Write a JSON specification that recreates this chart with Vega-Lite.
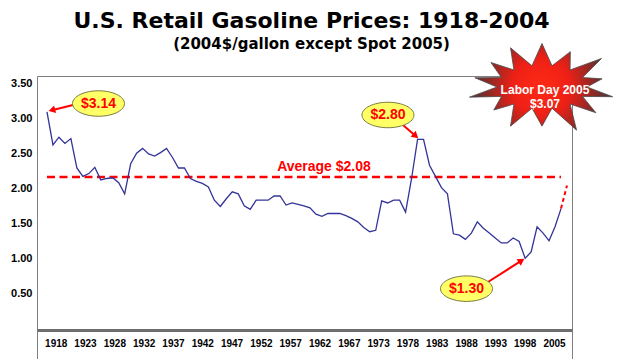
{
  "$schema": "https://vega.github.io/schema/vega-lite/v6.json",
  "width": 535,
  "height": 284,
  "autosize": {"type": "none"},
  "padding": {"left": 37, "top": 76, "right": 52, "bottom": 0},
  "background": "white",
  "title": {
    "text": "U.S. Retail Gasoline Prices: 1918-2004",
    "subtitle": "(2004$/gallon except Spot 2005)",
    "font": "DejaVu Sans",
    "fontSize": 22,
    "fontWeight": "bold",
    "color": "#000000",
    "subtitleFont": "DejaVu Sans",
    "subtitleFontSize": 15,
    "subtitleFontWeight": "bold",
    "subtitleColor": "#000000",
    "subtitlePadding": 4,
    "anchor": "middle",
    "frame": "group",
    "dx": 7,
    "dy": 37,
    "offset": 26
  },
  "config": {"view": {"stroke": "#808080", "strokeWidth": 1}},
  "datasets": {
    "prices": [
      {"year": 1918, "price": 3.10}, {"year": 1919, "price": 2.63}, {"year": 1920, "price": 2.74},
      {"year": 1921, "price": 2.65}, {"year": 1922, "price": 2.72}, {"year": 1923, "price": 2.30},
      {"year": 1924, "price": 2.18}, {"year": 1925, "price": 2.22}, {"year": 1926, "price": 2.31},
      {"year": 1927, "price": 2.13}, {"year": 1928, "price": 2.15}, {"year": 1929, "price": 2.16},
      {"year": 1930, "price": 2.09}, {"year": 1931, "price": 1.93}, {"year": 1932, "price": 2.36},
      {"year": 1933, "price": 2.51}, {"year": 1934, "price": 2.58}, {"year": 1935, "price": 2.50},
      {"year": 1936, "price": 2.47}, {"year": 1937, "price": 2.52}, {"year": 1938, "price": 2.58},
      {"year": 1939, "price": 2.45}, {"year": 1940, "price": 2.30}, {"year": 1941, "price": 2.30},
      {"year": 1942, "price": 2.15}, {"year": 1943, "price": 2.11}, {"year": 1944, "price": 2.08},
      {"year": 1945, "price": 2.03}, {"year": 1946, "price": 1.84}, {"year": 1947, "price": 1.75},
      {"year": 1948, "price": 1.86}, {"year": 1949, "price": 1.96}, {"year": 1950, "price": 1.93},
      {"year": 1951, "price": 1.76}, {"year": 1952, "price": 1.71}, {"year": 1953, "price": 1.84},
      {"year": 1954, "price": 1.84}, {"year": 1955, "price": 1.84}, {"year": 1956, "price": 1.90},
      {"year": 1957, "price": 1.90}, {"year": 1958, "price": 1.77}, {"year": 1959, "price": 1.80},
      {"year": 1960, "price": 1.78}, {"year": 1961, "price": 1.76}, {"year": 1962, "price": 1.73},
      {"year": 1963, "price": 1.64}, {"year": 1964, "price": 1.61}, {"year": 1965, "price": 1.65},
      {"year": 1966, "price": 1.65}, {"year": 1967, "price": 1.65}, {"year": 1968, "price": 1.62},
      {"year": 1969, "price": 1.58}, {"year": 1970, "price": 1.53}, {"year": 1971, "price": 1.45},
      {"year": 1972, "price": 1.39}, {"year": 1973, "price": 1.41}, {"year": 1974, "price": 1.83},
      {"year": 1975, "price": 1.80}, {"year": 1976, "price": 1.84}, {"year": 1977, "price": 1.84},
      {"year": 1978, "price": 1.67}, {"year": 1979, "price": 2.15}, {"year": 1980, "price": 2.71},
      {"year": 1981, "price": 2.71}, {"year": 1982, "price": 2.34}, {"year": 1983, "price": 2.18},
      {"year": 1984, "price": 2.02}, {"year": 1985, "price": 1.93}, {"year": 1986, "price": 1.36},
      {"year": 1987, "price": 1.34}, {"year": 1988, "price": 1.28}, {"year": 1989, "price": 1.37},
      {"year": 1990, "price": 1.53}, {"year": 1991, "price": 1.44}, {"year": 1992, "price": 1.37},
      {"year": 1993, "price": 1.30}, {"year": 1994, "price": 1.23}, {"year": 1995, "price": 1.23},
      {"year": 1996, "price": 1.30}, {"year": 1997, "price": 1.25}, {"year": 1998, "price": 1.01},
      {"year": 1999, "price": 1.10}, {"year": 2000, "price": 1.46}, {"year": 2001, "price": 1.37},
      {"year": 2002, "price": 1.26}, {"year": 2003, "price": 1.46}, {"year": 2004, "price": 1.72}
    ],
    "spot": [{"year": 2004, "price": 1.72}, {"year": 2005, "price": 2.05}],
    "average": [{"year": 1918, "year2": 2004, "price": 2.17}],
    "avgLabel": [{"year": 1964.34, "price": 2.319, "text": "Average $2.08"}],
    "arrows": [
      {"text": "$3.14", "year": 1918.82, "price": 3.126, "year2": 1922.35, "price2": 3.20},
      {"text": "$2.80", "year": 1979.69, "price": 2.757, "year2": 1977.56, "price2": 2.914},
      {"text": "$1.30", "year": 1997.39, "price": 0.977, "year2": 1991.79, "price2": 0.671}
    ],
    "callouts": [
      {"text": "$3.14", "year": 1926.62, "price": 3.221},
      {"text": "$2.80", "year": 1975.05, "price": 3.057},
      {"text": "$1.30", "year": 1988.19, "price": 0.576}
    ],
    "burst": [{"year": 2000.82, "price": 3.457, "textYear": 2001.32, "textPrice": 3.414, "text": "Labor Day 2005\n$3.07"}]
  },
  "encoding": {
    "x": {
      "field": "year",
      "type": "quantitative",
      "scale": {"domain": [1916.33, 2005.84], "nice": false, "zero": false},
      "axis": {
        "title": null,
        "grid": false,
        "ticks": false,
        "domain": true,
        "domainColor": "#6e6e6e",
        "domainWidth": 3,
        "offset": -30,
        "labelPadding": 8,
        "labelAngle": 0,
        "labelFont": "Liberation Sans",
        "labelFontWeight": "bold",
        "labelFontSize": 10,
        "labelColor": "#000000",
        "labelOverlap": false,
        "labelFlush": false,
        "labelBound": false,
        "values": [1919.46, 1924.36, 1929.27, 1934.17, 1939.08, 1943.98, 1948.88, 1953.79, 1958.69, 1963.60, 1968.50, 1973.40, 1978.31, 1983.21, 1988.12, 1993.02, 1997.92, 2002.83],
        "labelExpr": "['1918','1923','1928','1932','1937','1942','1947','1952','1957','1962','1967','1973','1978','1983','1988','1993','1998','2005'][round((datum.value-1919.46)/4.904)]"
      }
    },
    "y": {
      "field": "price",
      "type": "quantitative",
      "scale": {"domain": [-0.443, 3.614], "nice": false, "zero": false},
      "axis": {
        "title": null,
        "grid": false,
        "ticks": false,
        "domain": false,
        "values": [0.5, 1, 1.5, 2, 2.5, 3, 3.5],
        "format": ".2f",
        "labelPadding": 5,
        "labelFont": "Liberation Sans",
        "labelFontWeight": "bold",
        "labelFontSize": 11,
        "labelColor": "#000000"
      }
    }
  },
  "layer": [
    {
      "data": {"name": "average"},
      "mark": {"type": "rule", "color": "#ff0000", "strokeWidth": 2.5, "strokeDash": [8, 4.5]},
      "encoding": {"x2": {"field": "year2"}}
    },
    {
      "data": {"name": "prices"},
      "mark": {"type": "line", "color": "#333399", "strokeWidth": 1.3}
    },
    {
      "data": {"name": "spot"},
      "mark": {"type": "line", "color": "#ff0000", "strokeWidth": 2, "strokeDash": [4, 3]}
    },
    {
      "data": {"name": "avgLabel"},
      "mark": {"type": "text", "color": "#ff0000", "font": "Liberation Sans", "fontWeight": "bold", "fontSize": 14, "align": "center", "baseline": "middle"},
      "encoding": {"text": {"field": "text"}}
    },
    {
      "data": {"name": "arrows"},
      "mark": {"type": "rule", "color": "#ff0000", "strokeWidth": 2},
      "encoding": {"x2": {"field": "year2"}, "y2": {"field": "price2"}}
    },
    {
      "data": {"name": "arrows"},
      "mark": {"type": "point", "shape": "triangle-up", "filled": true, "color": "#ff0000", "opacity": 1, "size": 60},
      "encoding": {
        "angle": {
          "condition": [
            {"test": "datum.text === '$3.14'", "value": 254},
            {"test": "datum.text === '$2.80'", "value": 131}
          ],
          "value": 57
        }
      }
    },
    {
      "data": {"name": "callouts"},
      "mark": {
        "type": "point",
        "shape": "M -1 0 A 1 0.49 0 1 0 1 0 A 1 0.49 0 1 0 -1 0 Z",
        "size": 2704,
        "filled": true,
        "fill": "#ffff66",
        "stroke": "#7a7a40",
        "strokeWidth": 1,
        "opacity": 1
      }
    },
    {
      "data": {"name": "callouts"},
      "mark": {"type": "text", "color": "#ff0000", "font": "Liberation Sans", "fontWeight": "bold", "fontSize": 14, "align": "center", "baseline": "middle"},
      "encoding": {"text": {"field": "text"}}
    },
    {
      "data": {"name": "burst"},
      "mark": {
        "type": "point",
        "shape": "M0,-0.6L0.138,-0.292L0.391,-0.487L0.387,-0.235L0.821,-0.393L0.559,-0.13L0.829,-0.113L0.62,0L0.975,0.134L0.559,0.13L0.743,0.355L0.387,0.235L0.477,0.595L0.138,0.292L0,0.54L-0.138,0.292L-0.434,0.541L-0.387,0.235L-0.665,0.318L-0.559,0.13L-1,0.14L-0.62,0L-0.926,-0.127L-0.559,-0.13L-0.704,-0.337L-0.387,-0.235L-0.434,-0.541L-0.138,-0.292Z",
        "size": 21025,
        "filled": true,
        "opacity": 1,
        "fill": {
          "gradient": "radial",
          "x1": 0.5, "y1": 0.5, "r1": 0,
          "x2": 0.5, "y2": 0.5, "r2": 0.5,
          "stops": [
            {"offset": 0, "color": "#ff2a14"},
            {"offset": 0.4, "color": "#ee2016"},
            {"offset": 0.75, "color": "#8a2a26"},
            {"offset": 1, "color": "#3c3c3c"}
          ]
        },
        "stroke": "#4a4a4a",
        "strokeWidth": 0.8
      }
    },
    {
      "data": {"name": "burst"},
      "mark": {"type": "text", "color": "#ffffff", "font": "Liberation Sans", "fontWeight": "bold", "fontSize": 12, "align": "center", "baseline": "middle", "lineBreak": "\n", "lineHeight": 14},
      "encoding": {
        "x": {"field": "textYear", "type": "quantitative"},
        "y": {"field": "textPrice", "type": "quantitative"},
        "text": {"field": "text"}
      }
    }
  ]
}
